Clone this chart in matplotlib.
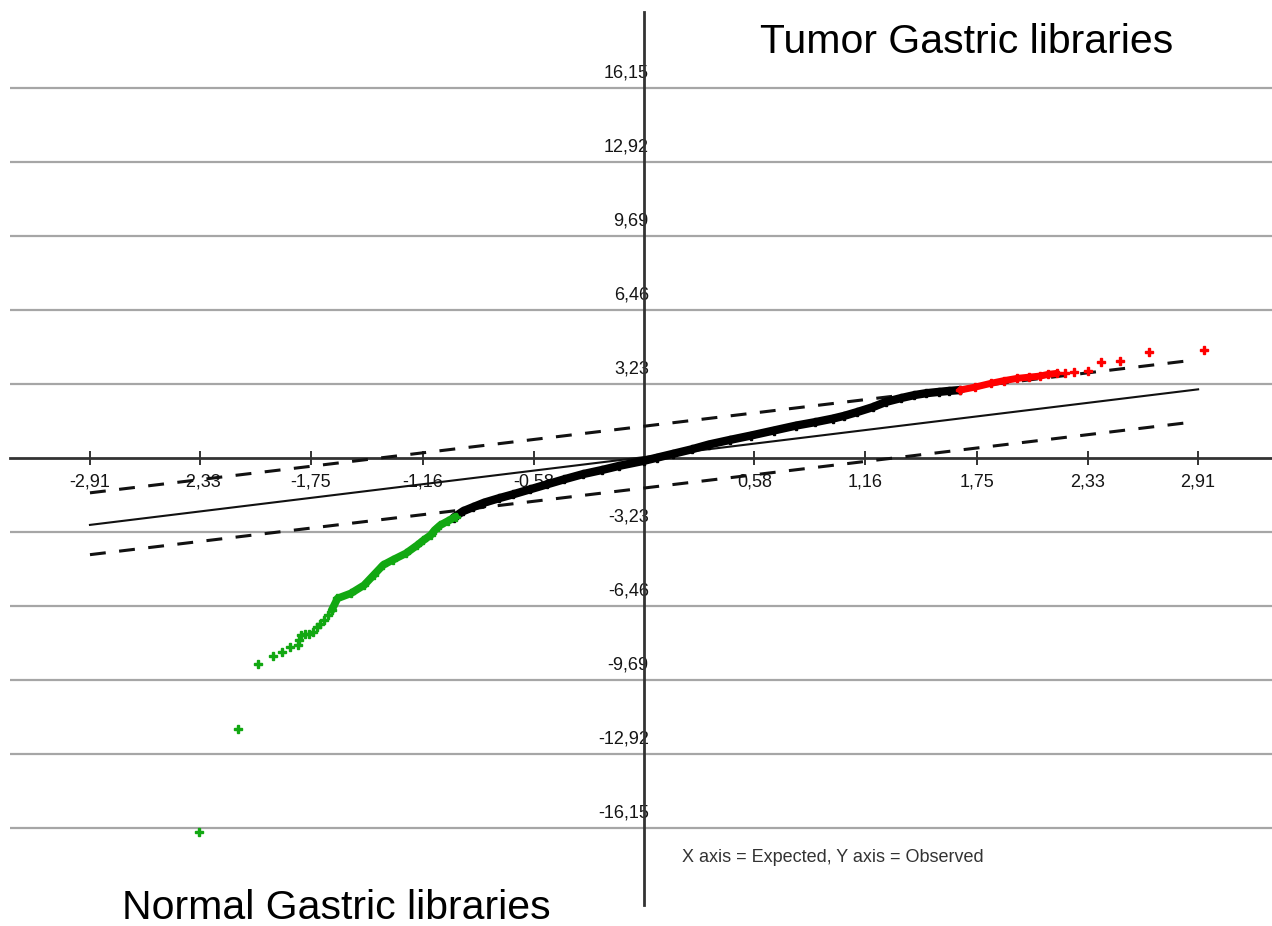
import matplotlib
matplotlib.use("Agg")
import matplotlib.pyplot as plt

plt.rcParams['font.family'] = ['Liberation Sans', 'DejaVu Sans']

# ---- data ----
x_ticks = [-2.91, -2.33, -1.75, -1.16, -0.58, 0.58, 1.16, 1.75, 2.33, 2.91]
x_tick_labels = ["-2,91", "-2,33", "-1,75", "-1,16", "-0,58", "0,58", "1,16", "1,75", "2,33", "2,91"]
y_ticks = [16.15, 12.92, 9.69, 6.46, 3.23, -3.23, -6.46, -9.69, -12.92, -16.15]
y_tick_labels = ["16,15", "12,92", "9,69", "6,46", "3,23", "-3,23", "-6,46", "-9,69", "-12,92", "-16,15"]

# reference line and confidence band (end points)
ref_x = [-2.91, 2.91]
ref_y = [-2.92, 3.00]
band_x = [-2.91, 2.88]
upper_y = [-1.52, 4.27]
lower_y = [-4.22, 1.57]

# black (non-significant) points
black_x = [-1.00, -0.95, -0.90, -0.84, -0.76, -0.69, -0.60, -0.51, -0.42, -0.32, -0.22, -0.13, 0.00,
           0.07, 0.15, 0.25, 0.34, 0.45, 0.56, 0.68, 0.80, 0.90, 0.99, 1.05, 1.12, 1.20, 1.27, 1.35,
           1.42, 1.48, 1.55, 1.60, 1.66]
black_y = [-2.60, -2.32, -2.15, -1.95, -1.75, -1.59, -1.37, -1.15, -0.93, -0.70, -0.52, -0.34, -0.12,
           0.02, 0.18, 0.38, 0.59, 0.79, 0.98, 1.20, 1.42, 1.57, 1.72, 1.84, 2.01, 2.22, 2.45, 2.62,
           2.75, 2.83, 2.89, 2.93, 2.97]

# green (Normal) points
green_dense_x = [-0.99, -1.03, -1.07, -1.10, -1.12, -1.16, -1.19, -1.25, -1.32, -1.37, -1.42, -1.47, -1.54, -1.61, -1.64]
green_dense_y = [-2.56, -2.75, -2.93, -3.15, -3.36, -3.60, -3.80, -4.16, -4.45, -4.67, -5.11, -5.55, -5.91, -6.13, -6.64]
green_x = [-1.66, -1.68, -1.70, -1.72, -1.74, -1.76, -1.78, -1.80, -1.81, -1.82, -1.86, -1.90, -1.95, -2.03, -2.13, -2.34]
green_y = [-6.85, -7.07, -7.25, -7.40, -7.58, -7.67, -7.70, -7.73, -7.95, -8.17, -8.24, -8.46, -8.65, -9.00, -11.85, -16.32]

# red (Tumor) points
red_dense_x = [1.66, 1.74, 1.82, 1.89, 1.96, 2.02, 2.08, 2.12, 2.17]
red_dense_y = [2.97, 3.10, 3.26, 3.38, 3.48, 3.53, 3.58, 3.65, 3.70]
red_x = [2.21, 2.26, 2.33, 2.40, 2.50, 2.65, 2.94]
red_y = [3.73, 3.77, 3.81, 4.18, 4.25, 4.64, 4.74]

# ---- figure ----
W, H = 1272, 926
fig = plt.figure(figsize=(W / 100, H / 100), dpi=100)
ax = fig.add_axes([10 / W, 21 / H, 1 - 10 / W, (905 - 12) / H])
ax.set_xlim(-3.33, 3.298)
ax.set_ylim(-19.52, 19.48)

# horizontal gridlines
for v in y_ticks:
    ax.axhline(v, color='#a6a6a6', lw=1.6, zorder=1)

# axes through origin
for s in ['top', 'right']:
    ax.spines[s].set_visible(False)
ax.spines['left'].set_position(('data', 0))
ax.spines['bottom'].set_position(('data', 0))
for s in ['left', 'bottom']:
    ax.spines[s].set_color('#333333')
    ax.spines[s].set_linewidth(2.0)

ax.set_xticks(x_ticks)
ax.set_xticklabels(x_tick_labels, fontsize=13, color='#151515')
ax.tick_params(axis='x', direction='inout', length=10, width=1.4, color='#333333', pad=6)
ax.set_yticks([])

for v, lab in zip(y_ticks, y_tick_labels):
    ax.text(0.025, v + 0.66, lab, ha='right', va='center', fontsize=13, color='#151515', zorder=2)

# reference line and band
ax.plot(ref_x, ref_y, color='#111111', lw=1.5, zorder=3)
ax.plot(band_x, upper_y, color='#111111', lw=2.2, dashes=(5.2, 4.4), zorder=3)
ax.plot(band_x, lower_y, color='#111111', lw=2.2, dashes=(5.2, 4.4), zorder=3)

# points
ax.plot(black_x, black_y, color='black', lw=6, solid_capstyle='round', solid_joinstyle='round', zorder=4)
ax.plot(black_x, black_y, 'P', color='black', ms=6, zorder=4)

green = '#12a812'
red = '#ff0000'
ax.plot(green_dense_x, green_dense_y, color=green, lw=5.5, solid_capstyle='round', solid_joinstyle='round', zorder=4)
ax.plot(green_dense_x, green_dense_y, 'P', color=green, ms=6, zorder=4)
ax.plot(green_x, green_y, 'P', color=green, ms=6, ls='none', zorder=4)

ax.plot(red_dense_x, red_dense_y, color=red, lw=5, solid_capstyle='round', solid_joinstyle='round', zorder=4)
ax.plot(red_dense_x, red_dense_y, 'P', color=red, ms=6, zorder=4)
ax.plot(red_x, red_y, 'P', color=red, ms=6, ls='none', zorder=4)

# annotations
fig.text(967 / W, 1 - 42 / H, "Tumor Gastric libraries", ha='center', va='center', fontsize=29.5, color='black')
fig.text(336 / W, 1 - 908 / H, "Normal Gastric libraries", ha='center', va='center', fontsize=29.5, color='black')
fig.text(682 / W, 1 - 858 / H, "X axis = Expected, Y axis = Observed", ha='left', va='center', fontsize=13, color='#333333')

fig.savefig("out.png", dpi=100)
